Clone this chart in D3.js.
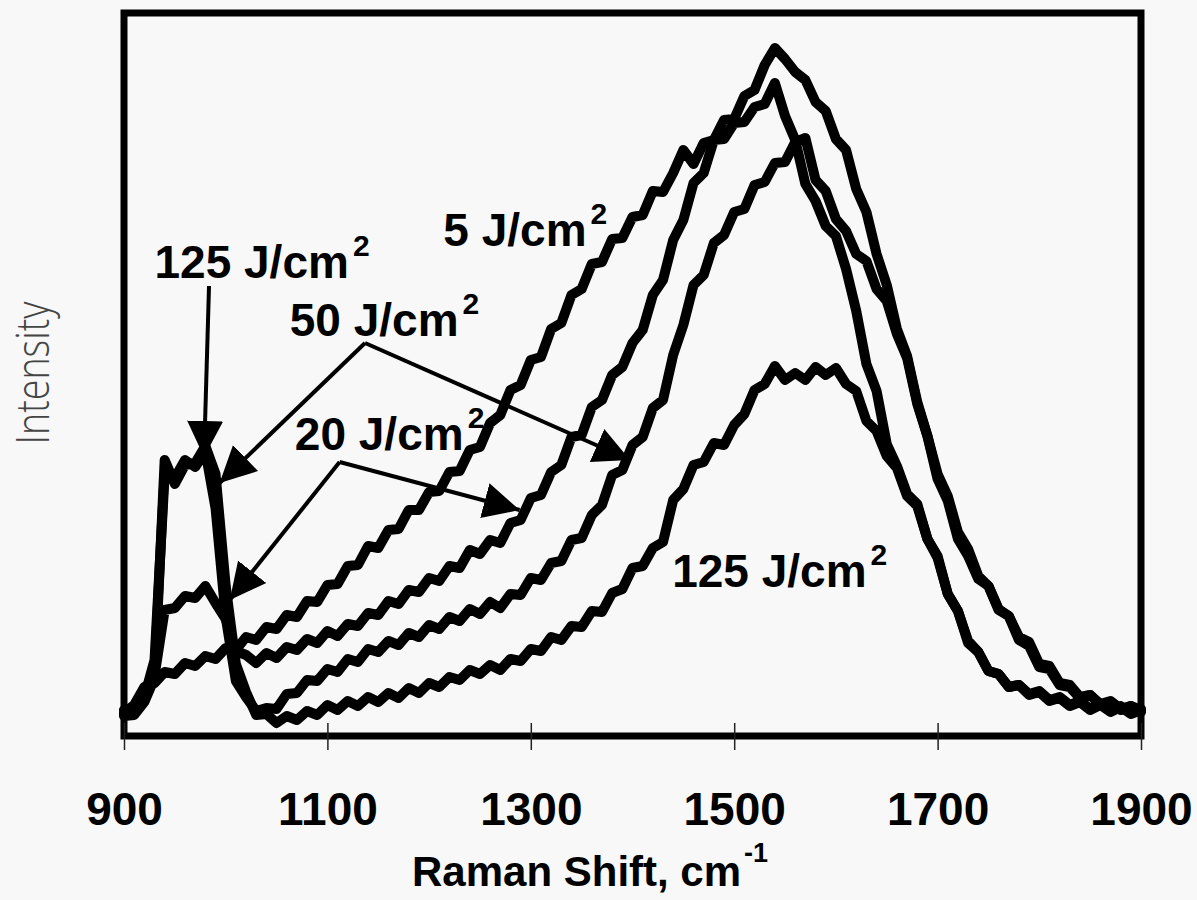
<!DOCTYPE html>
<html>
<head>
<meta charset="utf-8">
<script src="https://cdn.jsdelivr.net/npm/d3@7"></script>
<style>
  body { margin: 0; background: #f8f8f8; }
  svg { display: block; background: #f8f8f8; }
</style>
</head>
<body>
<div id="chart"></div>
<script>
// Raman shift grid, cm-1 (one reading every 10 cm-1)
const ramanShift = d3.range(900, 1901, 10);

// Intensity readings (arbitrary units) for each laser fluence
const fluence5 = [23,31,49,53,64,62,73,70,80,77,88,86,99,96,109,107,121,119,135,134,
  151,152,170,171,190,188,206,207,226,226,244,245,264,265,286,289,313,321,346,351,
  376,379,407,413,441,447,472,474,497,498,519,521,545,544,563,586,572,593,596,616,
  617,640,646,671,688,677,664,656,634,625,597,586,547,524,482,451,407,380,334,300,
  257,235,197,180,157,150,127,120,96,90,69,67,51,49,38,41,32,35,27,30,26];

const fluence20 = [26,28,41,60,126,128,140,138,150,133,117,85,81,73,83,78,89,86,97,93,
  105,100,112,110,123,121,135,132,146,144,158,155,170,168,186,182,196,193,213,216,
  238,241,264,271,299,301,329,336,361,369,393,406,441,456,496,516,553,563,596,597,
  613,614,629,632,653,620,596,552,535,510,500,467,425,372,345,292,270,242,232,197,
  180,142,125,93,84,65,62,49,51,42,45,36,39,31,35,27,32,25,30,23,27];

const fluence50 = [22,24,39,76,262,258,276,269,285,228,119,55,39,25,28,27,42,43,56,55,
  67,64,77,74,87,84,95,91,103,99,111,107,119,115,127,122,134,128,142,141,
  158,156,173,175,196,198,221,231,261,266,291,299,328,336,381,411,451,461,493,501,
  524,527,551,554,573,574,594,598,556,545,517,505,482,475,447,435,402,378,332,300,
  262,240,204,187,160,150,126,120,99,94,72,70,53,51,39,41,31,34,26,30,24];

const fluence125 = [20,21,34,58,276,252,271,273,290,262,150,72,44,21,22,13,20,16,25,21,
  31,26,35,30,39,34,43,38,48,43,53,49,59,56,66,62,71,66,77,75,
  87,85,99,96,110,109,125,124,143,147,168,170,188,194,236,247,271,274,293,291,
  311,322,346,352,370,356,363,356,369,361,368,352,345,315,305,280,268,240,230,197,
  178,142,125,95,84,65,62,49,51,41,44,35,38,30,34,26,31,24,29,22,26];

const series = [fluence5, fluence20, fluence50, fluence125];
const xTicks = [900, 1100, 1300, 1500, 1700, 1900];

// Annotation anchors in data units (cm-1, intensity)
const labels = [
  { text: '125 J/cm', sup: '2', x: 930, y: 458 },
  { text: '5 J/cm', sup: '2', x: 1214, y: 490 },
  { text: '50 J/cm', sup: '2', x: 1063, y: 400 },
  { text: '20 J/cm', sup: '2', x: 1068, y: 286 },
  { text: '125 J/cm', sup: '2', x: 1439, y: 149 }
];
const arrows = [
  { from: [983.6, 450], to: [978.7, 279] },
  { from: [1137, 393], to: [994, 253] },
  { from: [1137, 393], to: [1397.5, 276] },
  { from: [1112, 274], to: [1004, 136] },
  { from: [1112, 274], to: [1289, 226] }
];

// Chart dimensions
const margin = { top: 13, right: 56, bot: 164, left: 124 };
const width = 1197 - margin.left - margin.right;
const height = 900 - margin.top - margin.bot;
const boldFont = '"Liberation Sans", Arial, Helvetica, sans-serif';

// Scales
const xScale = d3.scaleLinear()
  .domain([900, 1900])
  .range([0, width]);

const yScale = d3.scaleLinear()
  .domain([0, 723])
  .range([height, 0]);

const spectrumLine = d3.line()
  .x(function(d, i) { return xScale(ramanShift[i]); })
  .y(function(d) { return yScale(d); });

const svg = d3.select('#chart').append('svg')
  .attr('width', width + margin.left + margin.right)
  .attr('height', height + margin.top + margin.bot);

svg.append('defs').append('marker')
  .attr('id', 'arrowhead')
  .attr('markerUnits', 'userSpaceOnUse')
  .attr('markerWidth', 40)
  .attr('markerHeight', 40)
  .attr('viewBox', '0 -20 40 40')
  .attr('refX', 36)
  .attr('refY', 0)
  .attr('orient', 'auto')
  .append('path')
  .attr('d', 'M0,-18L36,0L0,18Z')
  .attr('fill', '#000');

const g = svg.append('g')
  .attr('transform', `translate(${margin.left}, ${margin.top})`);

// Spectra
g.selectAll('.spectrum')
  .data(series)
  .enter().append('path')
  .attr('class', 'spectrum')
  .attr('d', spectrumLine)
  .attr('fill', 'none')
  .attr('stroke', '#000')
  .attr('stroke-width', 10)
  .attr('stroke-linejoin', 'round')
  .attr('stroke-linecap', 'round');

// Frame
g.append('rect')
  .attr('width', width)
  .attr('height', height)
  .attr('fill', 'none')
  .attr('stroke', '#000')
  .attr('stroke-width', 7);

// X axis
const xAxis = d3.axisBottom(xScale)
  .tickValues(xTicks)
  .tickSize(14)
  .tickFormat(d3.format('d'));

const xAxisG = g.append('g')
  .attr('transform', `translate(0, ${height})`)
  .call(xAxis);

xAxisG.select('.domain').remove();
xAxisG.selectAll('.tick line')
  .attr('y1', -13)
  .attr('stroke', '#222')
  .attr('stroke-width', 1.5);
xAxisG.selectAll('.tick text')
  .attr('y', 89)
  .attr('dy', 0)
  .attr('fill', '#000')
  .style('font-family', boldFont)
  .style('font-weight', 'bold')
  .style('font-size', '46px');

// Axis titles
const xTitle = g.append('text')
  .attr('x', 288)
  .attr('y', 873)
  .style('font-family', boldFont)
  .style('font-weight', 'bold')
  .style('font-size', '42px');
xTitle.append('tspan').text('Raman Shift, cm');
xTitle.append('tspan').attr('dx', 3).attr('dy', -24).style('font-size', '27px').text('-1');

svg.append('text')
  .attr('transform', 'translate(49, 373) rotate(-90)')
  .attr('text-anchor', 'middle')
  .attr('textLength', 143)
  .attr('lengthAdjust', 'spacingAndGlyphs')
  .attr('fill', '#444')
  .style('font-family', '"Open Sans", Lato, sans-serif')
  .style('font-weight', 300)
  .style('font-size', '46px')
  .text('Intensity');

// Annotation arrows
g.selectAll('.pointer')
  .data(arrows)
  .enter().append('line')
  .attr('class', 'pointer')
  .attr('x1', function(d) { return xScale(d.from[0]); })
  .attr('y1', function(d) { return yScale(d.from[1]); })
  .attr('x2', function(d) { return xScale(d.to[0]); })
  .attr('y2', function(d) { return yScale(d.to[1]); })
  .attr('stroke', '#000')
  .attr('stroke-width', 4)
  .attr('marker-end', 'url(#arrowhead)');

// Fluence labels
const labelText = g.selectAll('.fluence-label')
  .data(labels)
  .enter().append('text')
  .attr('class', 'fluence-label')
  .attr('x', function(d) { return xScale(d.x); })
  .attr('y', function(d) { return yScale(d.y); })
  .style('font-family', boldFont)
  .style('font-weight', 'bold')
  .style('font-size', '46px');

labelText.append('tspan').text(function(d) { return d.text; });
labelText.append('tspan')
  .attr('dx', 4)
  .attr('dy', -22)
  .style('font-size', '30px')
  .text(function(d) { return d.sup; });
</script>
</body>
</html>
